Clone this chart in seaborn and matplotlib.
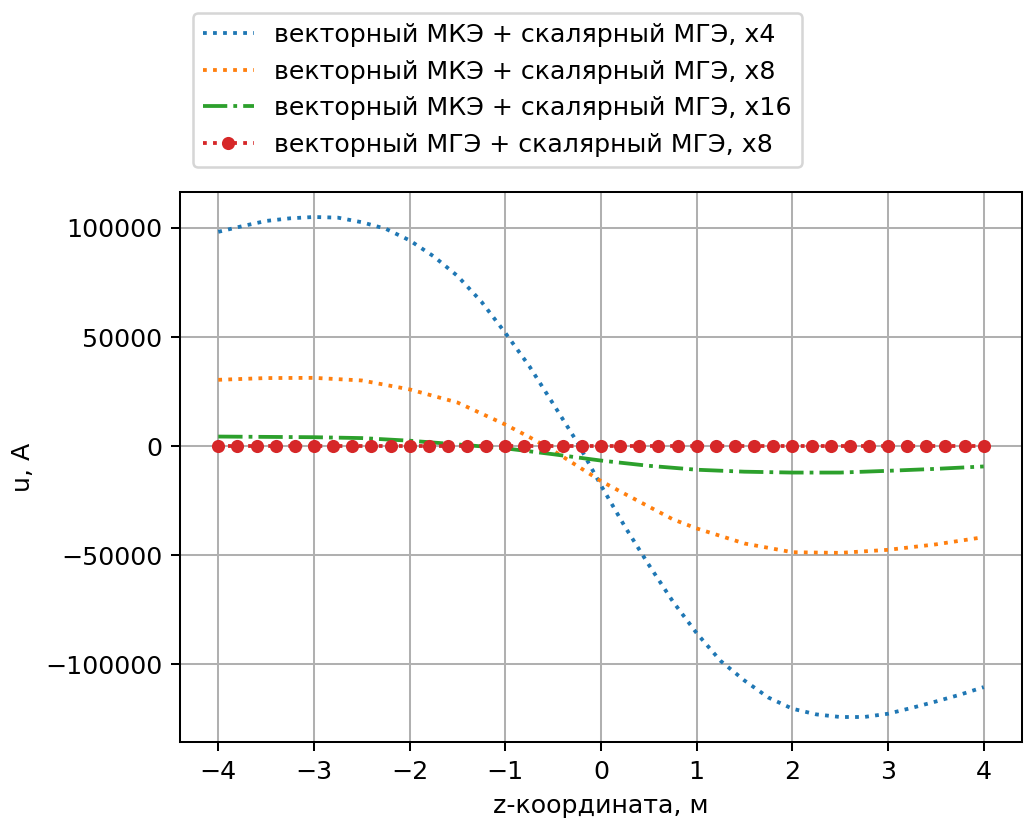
import matplotlib
matplotlib.use("Agg")
import matplotlib.pyplot as plt
import seaborn as sns
import numpy as np

# ---- data ----
x_blue = [-4.0, -3.75, -3.5, -3.25, -3.0, -2.75, -2.5, -2.25, -2.0, -1.75, -1.5, -1.25,
          -1.0, -0.75, -0.5, -0.25, 0.0, 0.25, 0.5, 0.75, 1.0, 1.25, 1.5, 1.75,
          2.0, 2.25, 2.5, 2.75, 3.0, 3.25, 3.5, 3.75, 4.0]
u_blue = [98200, 100800, 103200, 104400, 105000, 104700, 102600, 99600, 94300, 87000,
          78000, 66200, 51900, 36700, 19400, 1900, -18000, -36900, -54400, -71100,
          -85700, -98400, -107400, -115200, -120300, -122900, -124100, -124100,
          -122600, -119900, -117000, -113900, -110400]

x_orange = [-4.0, -3.5, -3.0, -2.5, -2.0, -1.5, -1.0, -0.75, -0.5, -0.25, 0.0, 0.25,
            0.5, 0.75, 1.0, 1.5, 2.0, 2.5, 3.0, 3.5, 4.0]
u_orange = [30400, 31200, 31300, 30100, 26000, 20000, 9900, 4200, -2000, -9000, -16000,
            -21900, -27700, -33500, -37700, -44600, -48600, -48900, -47500, -45000, -41700]

x_green = [-4.0, -3.0, -2.5, -2.0, -1.5, -1.0, -0.5, 0.0, 0.5, 1.0, 1.5, 2.0, 2.5,
           3.0, 3.5, 4.0]
u_green = [4400, 4100, 3700, 2500, 800, -1000, -3700, -6600, -9000, -10800, -11700,
           -12100, -12100, -11300, -10400, -9300]

x_red = [-4.0, -3.8, -3.6, -3.4, -3.2, -3.0, -2.8, -2.6, -2.4, -2.2, -2.0, -1.8, -1.6,
         -1.4, -1.2, -1.0, -0.8, -0.6, -0.4, -0.2, 0.0, 0.2, 0.4, 0.6, 0.8, 1.0, 1.2,
         1.4, 1.6, 1.8, 2.0, 2.2, 2.4, 2.6, 2.8, 3.0, 3.2, 3.4, 3.6, 3.8, 4.0]
u_red = [0, 0, 0, 0, 0, 0, 0, 0, 0, 0, 0, 0, 0, 0, 0, 0, 0, 0, 0, 0, 0,
         0, 0, 0, 0, 0, 0, 0, 0, 0, 0, 0, 0, 0, 0, 0, 0, 0, 0, 0, 0]

labels = ["векторный МКЭ + скалярный МГЭ, x4",
          "векторный МКЭ + скалярный МГЭ, x8",
          "векторный МКЭ + скалярный МГЭ, x16",
          "векторный МГЭ + скалярный МГЭ, x8"]

plt.rcParams['font.family'] = ['DejaVu Sans']

dpi = 182
fig = plt.figure(figsize=(1024 / dpi, 821 / dpi), dpi=dpi)
ax = fig.add_axes([180 / 1024, 79 / 821, 842 / 1024, 550 / 821])

sns.lineplot(x=x_blue, y=u_blue, ax=ax, color='tab:blue', linestyle=':', lw=1.5,
             label=labels[0], sort=False)
sns.lineplot(x=x_orange, y=u_orange, ax=ax, color='tab:orange', linestyle=':', lw=1.5,
             label=labels[1], sort=False)
sns.lineplot(x=x_green, y=u_green, ax=ax, color='tab:green', linestyle='-.', lw=1.5,
             label=labels[2], sort=False)
sns.lineplot(x=x_red, y=u_red, ax=ax, color='tab:red', linestyle=':', lw=1.5,
             marker='o', markersize=5.2, markeredgewidth=0, label=labels[3], sort=False)

ax.grid(True)
ax.set_xlabel("z-координата, м")
ax.set_ylabel("u, A")
ax.legend(loc='lower left', bbox_to_anchor=(13 / 842, (742 - 167) / 550),
          borderaxespad=0)

fig.savefig("out.png", dpi=dpi)
